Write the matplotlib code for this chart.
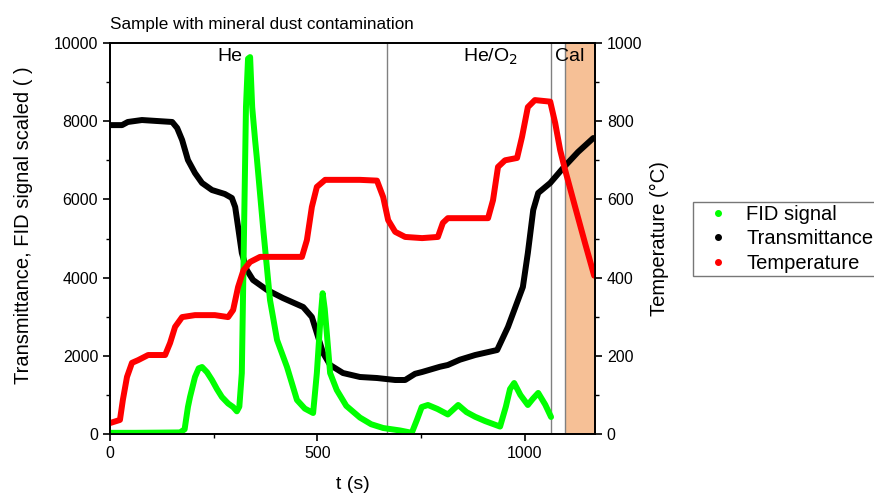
import matplotlib
matplotlib.use("Agg")
import matplotlib.pyplot as plt
from matplotlib.lines import Line2D
from matplotlib.ticker import MultipleLocator

plt.rcParams['font.family'] = ['Liberation Sans', 'DejaVu Sans']

# ---- data ----
t_fid = [0, 60, 120, 169, 180, 188, 193, 205, 214, 222, 234, 246, 258, 270, 285, 297, 306,
         312, 318, 323, 328, 333, 338, 343, 350, 354, 370, 386, 403, 427, 451, 470, 490,
         499, 507, 513, 518, 523, 531, 547, 570, 603, 630, 659, 700, 728, 740, 752,
         767, 790, 815, 840, 860, 881, 905, 941, 955, 965, 975, 990, 1008, 1020, 1033, 1050, 1064]
v_fid = [30, 30, 35, 40, 120, 690, 946, 1458, 1680, 1713, 1580, 1381, 1150, 946, 780, 690, 580,
         700, 1560, 4960, 8360, 9600, 9640, 8360, 7519, 7084, 5200, 3427, 2404, 1713, 870, 650, 537,
         1560, 2840, 3600, 3200, 2583, 1560, 1125, 720, 420, 250, 153, 90, 30, 350, 690,
         742, 640, 500, 742, 560, 440, 330, 190, 700, 1150, 1304, 1000, 742, 900, 1050, 750, 435]

t_tr = [0, 29, 43, 77, 150, 162, 174, 188, 205, 222, 246, 277, 294, 302, 309, 318, 330,
        345, 379, 417, 466, 487, 499, 514, 531, 562, 603, 644, 688, 712, 736, 753, 796,
        815, 844, 881, 934, 960, 996, 1008, 1021, 1033, 1062, 1093, 1129, 1166]
v_tr = [7900, 7900, 7980, 8030, 7980, 7826, 7519, 7007, 6675, 6420, 6240, 6138, 6036, 5805, 5294, 4629, 4194,
        3939, 3683, 3478, 3248, 2992, 2583, 2072, 1765, 1560, 1458, 1432, 1381, 1381, 1540, 1586, 1720,
        1765, 1900, 2020, 2148, 2736, 3760, 4629, 5729, 6164, 6420, 6803, 7212, 7570]

t_temp = [0, 24, 31, 41, 53, 68, 92, 133, 145, 157, 174, 205, 253, 285, 297, 309,
          322, 338, 362, 463, 475, 487, 499, 519, 603, 644, 659, 671, 688, 712, 753,
          791, 803, 815, 912, 924, 936, 953, 982, 994, 1008, 1025, 1062, 1074, 1086,
          1098, 1122, 1146, 1168]
v_temp = [28, 36, 87, 146, 182, 189, 202, 202, 233, 274, 299, 304, 304, 299, 317, 376,
          419, 440, 453, 453, 496, 581, 632, 650, 650, 648, 606, 547, 517, 504, 501,
          504, 540, 552, 552, 598, 683, 700, 706, 760, 836, 854, 850, 795, 726,
          675, 581, 488, 405]

xticks = [0, 500, 1000]
yticks_left = [0, 2000, 4000, 6000, 8000, 10000]
yticks_right = [0, 200, 400, 600, 800, 1000]
phase_lines = [669, 1063, 1097]
cal_span = (1097, 1175)

# ---- figure ----
fig = plt.figure(figsize=(8.74, 4.95), dpi=100)
ax = fig.add_axes([110/874, 1-434/495, (595-110)/874, (434-43)/495])
ax2 = ax.twinx()

ax.axvspan(cal_span[0], cal_span[1], color='#F6C096', zorder=0, lw=0)
for xv in phase_lines:
    ax.axvline(xv, color='#808080', lw=1.0, zorder=1)

lw = 4.3
kw = dict(lw=lw, solid_capstyle='round', solid_joinstyle='round')
ax.plot(t_tr, v_tr, color='black', zorder=3, **kw)
ax.plot(t_fid, v_fid, color='#00FF00', zorder=4, **kw)
ax2.plot(t_temp, v_temp, color='#FF0000', **kw)

ax.set_xlim(0, 1170)
ax.set_ylim(0, 10000)
ax2.set_ylim(0, 1000)
ax.set_xticks(xticks)
ax.set_yticks(yticks_left)
ax2.set_yticks(yticks_right)
ax.xaxis.set_minor_locator(MultipleLocator(250))
ax.yaxis.set_minor_locator(MultipleLocator(1000))
ax2.yaxis.set_minor_locator(MultipleLocator(100))

for a in (ax, ax2):
    for s in a.spines.values():
        s.set_linewidth(1.3)
        s.set_color('black')
    a.tick_params(which='major', length=5, width=1.2, labelsize=11.5, direction='out')
    a.tick_params(which='minor', length=3, width=1.0, direction='out')
ax.tick_params(axis='x', which='both', top=False)

ax.set_xlabel('t (s)', fontsize=14)
ax.xaxis.set_label_coords(0.5, (434-476)/391)
ax.set_ylabel('Transmittance, FID signal scaled ( )', fontsize=14.5)
ax.yaxis.set_label_coords((33-110)/485, (434-225)/391)
ax2.set_ylabel('Temperature (°C)', fontsize=14.5)
ax2.yaxis.set_label_coords((650-110)/485, 0.5)
ax.set_title('Sample with mineral dust contamination', loc='left', fontsize=12.3, pad=10)

ax.text(290, 9660, 'He', fontsize=14, ha='center', va='center', zorder=5)
ax.text(917, 9650, 'He/O$_2$', fontsize=14, ha='center', va='center', zorder=5)
ax.text(1110, 9660, 'Cal', fontsize=14, ha='center', va='center', zorder=5)

handles = [Line2D([], [], ls='none', marker='o', ms=4, color='#00FF00'),
           Line2D([], [], ls='none', marker='o', ms=4, color='black'),
           Line2D([], [], ls='none', marker='o', ms=4, color='#FF0000')]
labels = ['FID signal', 'Transmittance', 'Temperature']
leg = fig.legend(handles, labels, loc='upper left', bbox_to_anchor=(693/874, 1-202/495),
                 fontsize=14.5, frameon=True, fancybox=False, edgecolor='#555555',
                 borderpad=0.15, labelspacing=0.27, handletextpad=0.3, handlelength=2.2,
                 borderaxespad=0)
leg.get_frame().set_linewidth(1.0)

fig.savefig('out.png', dpi=100)
